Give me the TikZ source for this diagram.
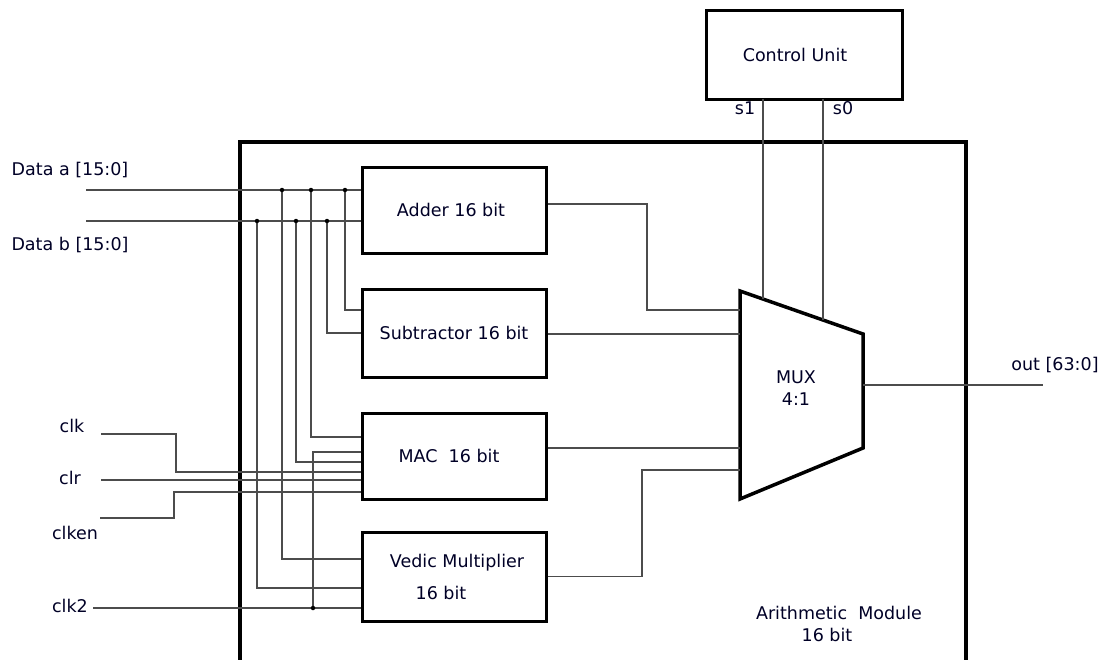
\documentclass[tikz,border=0pt]{standalone}
\usepackage{fontspec}
\setmainfont{DejaVu Sans}
\begin{document}
\begin{tikzpicture}[x=1pt,y=-1pt,
  txt/.style={font=\fontsize{17.5}{22}\selectfont, text=black!85!blue},
  blk/.style={draw,line width=3pt,minimum width=184pt,inner sep=0pt,txt},
  wire/.style={line width=1.3pt,draw=black!70},
  dotn/.style={circle,fill=black,inner sep=0pt,minimum size=4.5pt}]
\useasboundingbox (0,0) rectangle (1108,659);
% module outline
\coordinate (mbl) at (240,662);
\coordinate (mtl) at (240,142);
\coordinate (mtr) at (966,142);
\coordinate (mbr) at (966,662);
\draw[line width=3.5pt] (mbl) -- (mtl) -- (mtr) -- (mbr);
% blocks
\node[blk,minimum height=86pt] (add) at (454,210) {Adder 16 bit\hspace*{6pt}};
\node[blk,minimum height=88pt] (sub) at (454,333) {Subtractor 16 bit};
\node[blk,minimum height=86pt] (mac) at (454,456) {MAC\ \ 16 bit\hspace*{10pt}};
\node[blk,minimum height=89pt,align=center] (ved) at (454,576.5) {\hspace*{6pt}Vedic Multiplier\\[10pt]16 bit\hspace*{26pt}};
\node[blk,minimum width=196pt,minimum height=89pt] (cu) at (804,54.5) {Control Unit\hspace*{18pt}};
% mux
\coordinate (m1) at (740,291);
\coordinate (m2) at (863,334);
\coordinate (m3) at (863,448);
\coordinate (m4) at (740,499);
\draw[line width=3.5pt,line join=miter,fill=white] (m1) -- (m2) -- (m3) -- (m4) -- cycle;
\node[txt,align=center] (mux) at (796,388) {MUX\\4:1};
% inputs
\coordinate (da) at (86,190);
\coordinate (db) at (86,221);
\draw[wire] (da) -- (add.west |- da);
\draw[wire] (db) -- (add.west |- db);
\coordinate (ta1) at (282,190);
\coordinate (ta2) at (311,190);
\coordinate (ta3) at (345,190);
\coordinate (tb1) at (257,221);
\coordinate (tb2) at (296,221);
\coordinate (tb3) at (327,221);
\draw[wire] (ta3) |- ([yshift=23pt]sub.west);
\draw[wire] (tb3) |- (sub.west);
\draw[wire] (ta2) |- ([yshift=19pt]mac.west);
\draw[wire] (tb2) |- ([yshift=-6pt]mac.west);
\draw[wire] (ta1) |- ([yshift=17.5pt]ved.west);
\draw[wire] (tb1) |- ([yshift=-11.5pt]ved.west);
% clocks
\coordinate (clk) at (101,434);
\coordinate (clkj) at (176,434);
\coordinate (clr) at (101,480);
\coordinate (cen) at (100,518);
\coordinate (cenj) at (174,518);
\coordinate (ck2) at (93,608);
\coordinate (ck2t) at (313,608);
\draw[wire] (clk) -- (clkj) |- ([yshift=-16pt]mac.west);
\draw[wire] (clr) -- (mac.west |- clr);
\draw[wire] (cen) -- (cenj) |- ([yshift=-36pt]mac.west);
\draw[wire] (ck2) -- (ved.west |- ck2);
\draw[wire] (ck2t) |- ([yshift=4pt]mac.west);
% outputs to mux
\coordinate (mi1) at (740,310);
\coordinate (mi2) at (740,334);
\coordinate (mi3) at (740,448);
\coordinate (mi4) at (740,470);
\draw[wire] ([yshift=6pt]add.east) -| (647,310) -- (mi1);
\draw[wire] (sub.east |- mi2) -- (mi2);
\draw[wire] (mac.east |- mi3) -- (mi3);
\draw[wire] (ved.east) -| (642,470) -- (mi4);
% control
\coordinate (s1a) at (763,99);
\coordinate (s1b) at (763,299);
\coordinate (s0a) at (823,99);
\coordinate (s0b) at (823,320);
\draw[wire] (s1a) -- (s1b);
\draw[wire] (s0a) -- (s0b);
% output
\coordinate (mo) at (863,385);
\coordinate (oe) at (1043,385);
\draw[wire] (mo) -- (oe);
% dots
\foreach \p in {ta1,ta2,ta3,tb1,tb2,tb3,ck2t} \node[dotn] at (\p) {};
% labels
\node[txt] (lda) at (70,170) {Data a [15:0]};
\node[txt] (ldb) at (70,245) {Data b [15:0]};
\node[txt] (lclk) at (72,426) {clk};
\node[txt] (lclr) at (70,478) {clr};
\node[txt] (lcen) at (75,533) {clken};
\node[txt] (lck2) at (70,606) {clk2};
\node[txt] (ls1) at (745,108) {s1};
\node[txt] (ls0) at (843,108) {s0};
\node[txt] (lout) at (1055,365) {out [63:0]};
\node[txt,align=center] (lam) at (839,624) {Arithmetic\ \ Module\\16 bit\hspace*{24pt}};
\end{tikzpicture}
\end{document}
